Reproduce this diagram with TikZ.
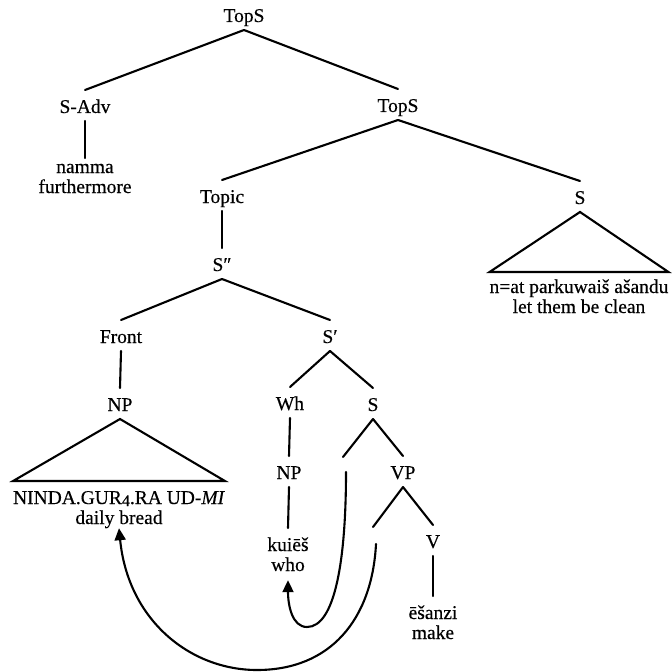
\documentclass[tikz,border=0pt]{standalone}
\usepackage{fontspec}
\setmainfont{Liberation Serif}[FakeBold=0.4]
\usetikzlibrary{arrows.meta,calc}
\begin{document}
\begin{tikzpicture}[x=1bp,y=-1bp,
  every node/.style={font=\fontsize{19.5bp}{20bp}\selectfont},
  cat/.style={inner sep=0pt, outer sep=4bp, text height=19bp, text depth=4bp, anchor=base},
  leaf/.style={inner sep=0pt, outer sep=0pt, align=center, anchor=north},
  branch/.style={line width=2.1bp, line cap=round},
  roof/.style={line width=2.1bp, line join=miter},
  roofbase/.style={line width=2.8bp},
  move/.style={line width=2.1bp, line cap=round, -{Triangle[length=12bp,width=11bp]}}]
\useasboundingbox (0,0) rectangle (672,672);

% category labels (placed on their baselines)
\node[cat] (tops1) at (244,22) {TopS};
\node[cat] (sadv) at (85,113) {S-Adv};
\node[cat] (tops2) at (398,112) {TopS};
\node[cat] (topic) at (222,203) {Topic};
\node[cat] (s1) at (580,204) {S};
\node[cat] (sdd) at (222,271) {S″};
\node[cat] (front) at (121,343) {Front};
\node[cat] (sp) at (330,343) {S′};
\node[cat] (np1) at (120,411) {NP};
\node[cat] (wh) at (290,410) {Wh};
\node[cat] (s2) at (373,411) {S};
\node[cat] (np2) at (289,479) {NP};
\node[cat] (vp) at (403,479) {VP};
\node[cat] (v) at (433,548) {V};

% lexical material with glosses
\node[leaf] (namma) at (85,158) {\rule{0pt}{15bp}namma\\furthermore};
\node[leaf] (parku) at (579,272) {\rule{0pt}{21bp}n=at parkuwaiš ašandu\\let them be clean};
\node[leaf] (ninda) at (119,481) {\rule{0pt}{23bp}NINDA.GUR\raisebox{-2bp}{\fontsize{16bp}{16bp}\selectfont 4}.RA UD-\textit{MI}\\daily bread};
\node[leaf] (kuies) at (288,528) {\rule{0pt}{23bp}kuiēš\\who};
\node[leaf] (esanzi) at (433,596) {\rule{0pt}{23bp}ēšanzi\\make};

% empty positions left by movement
\coordinate (gap1) at (343,457);
\coordinate (gap2) at (373,527);
\coordinate (src1) at (346,472);
\coordinate (src2) at (376,544);

% branches
\draw[branch] (tops1.south) -- (sadv.north);
\draw[branch] (tops1.south) -- (tops2.north);
\draw[branch] (sadv.south) -- (namma.north);
\draw[branch] (tops2.south) -- (topic.north);
\draw[branch] (tops2.south) -- (s1.north);
\draw[branch] (topic.south) -- (sdd.north);
\draw[branch] (sdd.south) -- (front.north);
\draw[branch] (sdd.south) -- (sp.north);
\draw[branch] (front.south) -- (np1.north);
\draw[branch] (sp.south) -- (wh.north);
\draw[branch] (sp.south) -- (s2.north);
\draw[branch] (wh.south) -- (np2.north);
\draw[branch] (np2.south) -- (kuies.north);
\draw[branch] (s2.south) -- (gap1);
\draw[branch] (s2.south) -- (vp.north);
\draw[branch] (vp.south) -- (gap2);
\draw[branch] (vp.south) -- (v.north);
\draw[branch] (v.south) -- (esanzi.north);

% roofs over unanalysed constituents
\draw[roof] (np1.south) -- (ninda.north west) -- (ninda.north east) -- cycle;
\draw[roofbase] (ninda.north west) -- (ninda.north east);
\draw[roof] (s1.south) -- (parku.north west) -- (parku.north east) -- cycle;
\draw[roofbase] (parku.north west) -- (parku.north east);

% movement arrows
\draw[move] (src1) .. controls (346,560) and (335,627) .. (307,627)
  .. controls (292,627) and (288,605) .. ($(kuies.south)+(0,9)$);
\draw[move] (src2) .. controls (372,620) and (330,670) .. (257,670)
  .. controls (190,670) and (128,620) .. (ninda.south);
\end{tikzpicture}
\end{document}
